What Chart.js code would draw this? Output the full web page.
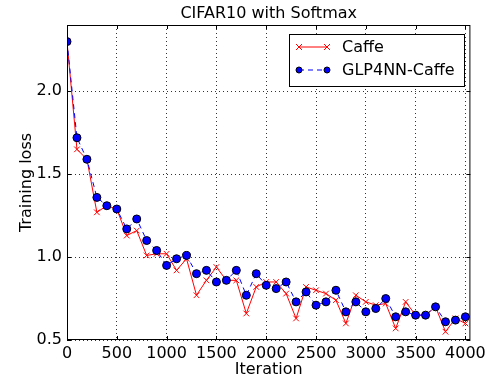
<!DOCTYPE html>
<html>
<head>
<meta charset="utf-8">
<script src="https://cdn.jsdelivr.net/npm/chart.js@4.4.1/dist/chart.umd.min.js"></script>
<style>
  html, body { margin: 0; padding: 0; background: #fff; }
  #wrap { width: 490px; height: 379px; }
</style>
</head>
<body>
<div id="wrap"><canvas id="c" width="490" height="379"></canvas></div>
<script>
let iterations = [0, 100, 200, 300, 400, 500, 600, 700, 800, 900, 1000,
    1100, 1200, 1300, 1400, 1500, 1600, 1700, 1800, 1900, 2000,
    2100, 2200, 2300, 2400, 2500, 2600, 2700, 2800, 2900, 3000,
    3100, 3200, 3300, 3400, 3500, 3600, 3700, 3800, 3900, 4000]

let caffeLoss = [2.30, 1.65, 1.59, 1.27, 1.31, 1.29, 1.13, 1.16, 1.01, 1.02, 1.02,
    0.92, 0.99, 0.77, 0.86, 0.94, 0.86, 0.86, 0.66, 0.82, 0.85,
    0.85, 0.78, 0.63, 0.82, 0.80, 0.78, 0.74, 0.60, 0.77, 0.73,
    0.71, 0.72, 0.57, 0.73, 0.65, 0.65, 0.70, 0.55, 0.63, 0.60]

let glpLoss = [2.30, 1.72, 1.59, 1.36, 1.31, 1.29, 1.17, 1.23, 1.10, 1.04, 0.95,
    0.99, 1.01, 0.90, 0.92, 0.85, 0.86, 0.92, 0.77, 0.90, 0.83,
    0.81, 0.85, 0.73, 0.79, 0.71, 0.73, 0.80, 0.67, 0.73, 0.67,
    0.69, 0.75, 0.64, 0.67, 0.65, 0.65, 0.70, 0.61, 0.62, 0.64]

let xTickValues = [0, 500, 1000, 1500, 2000, 2500, 3000, 3500, 4000]
let yTickValues = [0.5, 1.0, 1.5, 2.0]

let seriesNames = ["Caffe", "GLP4NN-Caffe"]
let chartTitle = "CIFAR10 with Softmax"
let xLabel = "Iteration"
let yLabel = "Training loss"

let font = "'DejaVu Sans', sans-serif"

let toPoints = function (ys) {
    return iterations.map((x, i) => ({x: x, y: ys[i]}))
}

// frame, inward ticks, title and legend in the old matplotlib look
let mplLook = {
    id: "mplLook",
    afterDraw(chart) {
        let ctx = chart.ctx
        let a = chart.chartArea
        let xs = chart.scales.x
        let ys = chart.scales.y
        ctx.save()
        ctx.strokeStyle = "#000"
        ctx.lineWidth = 1
        ctx.strokeRect(a.left + 0.5, a.top + 0.5, a.right - a.left - 1, a.bottom - a.top - 1)
        ctx.beginPath()
        xs.ticks.forEach(t => {
            let px = Math.round(xs.getPixelForValue(t.value)) + 0.5
            ctx.moveTo(px, a.bottom); ctx.lineTo(px, a.bottom - 4)
            ctx.moveTo(px, a.top); ctx.lineTo(px, a.top + 4)
        })
        ys.ticks.forEach(t => {
            let py = Math.round(ys.getPixelForValue(t.value)) + 0.5
            ctx.moveTo(a.left, py); ctx.lineTo(a.left + 4, py)
            ctx.moveTo(a.right, py); ctx.lineTo(a.right - 4, py)
        })
        ctx.stroke()

        ctx.fillStyle = "#000"
        ctx.font = "16px " + font
        ctx.textAlign = "center"
        ctx.textBaseline = "middle"
        ctx.fillText(chartTitle, (a.left + a.right) / 2, 14)

        // legend box
        let bx = 289.5, by = 34.5, bw = 175, bh = 52
        ctx.fillStyle = "#fff"
        ctx.fillRect(bx, by, bw, bh)
        ctx.strokeStyle = "#000"
        ctx.strokeRect(bx, by, bw, bh)
        let rows = [47, 70]
        chart.data.datasets.forEach((ds, i) => {
            let y = rows[i]
            ctx.save()
            ctx.strokeStyle = ds.borderColor
            ctx.lineWidth = 1
            ctx.setLineDash(ds.borderDash || [])
            ctx.beginPath()
            ctx.moveTo(299, y); ctx.lineTo(327, y)
            ctx.stroke()
            ctx.restore()
            ;[299, 327].forEach(px => {
                ctx.fillStyle = ds.pointBackgroundColor
                ctx.strokeStyle = ds.pointBorderColor
                ctx.lineWidth = ds.pointBorderWidth
                ctx.beginPath()
                let r = 3
                if (ds.pointStyle === "circle") {
                    ctx.arc(px, y, r, 0, Math.PI * 2)
                    ctx.fill(); ctx.stroke()
                } else {
                    ctx.moveTo(px - r, y - r); ctx.lineTo(px + r, y + r)
                    ctx.moveTo(px - r, y + r); ctx.lineTo(px + r, y - r)
                    ctx.stroke()
                }
            })
            ctx.fillStyle = "#000"
            ctx.font = "16px " + font
            ctx.textAlign = "left"
            ctx.textBaseline = "middle"
            ctx.fillText(ds.label, 342, y + 1)
        })
        ctx.restore()
    }
}

let gridStyle = {color: "rgba(0,0,0,0.8)", lineWidth: 1, drawTicks: false}
let borderStyle = {display: false, dash: [1, 3]}

let chart = new Chart(document.getElementById("c"), {
    type: "line",
    data: {
        datasets: [
            {
                label: seriesNames[0], data: toPoints(caffeLoss), order: 1,
                borderColor: "#ff0000", borderWidth: 1, tension: 0,
                pointStyle: "crossRot", pointRadius: 4, pointBorderWidth: 1,
                pointBorderColor: "#ff0000", pointBackgroundColor: "#ff0000",
                clip: 0
            },
            {
                label: seriesNames[1], data: toPoints(glpLoss), order: 0,
                borderColor: "#0000ff", borderWidth: 1, borderDash: [5, 4], tension: 0,
                pointStyle: "circle", pointRadius: 4, pointBorderWidth: 1,
                pointBorderColor: "#000", pointBackgroundColor: "#0000ff",
                clip: 0
            }
        ]
    },
    options: {
        responsive: false,
        animation: false,
        events: [],
        layout: {padding: {left: 0, right: 18, top: 25, bottom: 0}},
        plugins: {legend: {display: false}, title: {display: false}, tooltip: {enabled: false}},
        scales: {
            x: {
                type: "linear", min: 0, max: 4050,
                border: borderStyle,
                grid: gridStyle,
                ticks: {padding: 4, maxRotation: 0, autoSkip: false,
                    color: "#000", font: {family: font, size: 16},
                    callback: v => String(v)},
                afterBuildTicks(scale) { scale.ticks = xTickValues.map(v => ({value: v})) },
                title: {display: true, text: xLabel, color: "#000", padding: {top: 0, bottom: 0},
                    font: {family: font, size: 16}},
                afterFit(scale) { scale.height = 39 }
            },
            y: {
                min: 0.5, max: 2.4,
                border: borderStyle,
                grid: gridStyle,
                ticks: {padding: 5, autoSkip: false,
                    color: "#000", font: {family: font, size: 16},
                    callback: v => v.toFixed(1)},
                afterBuildTicks(scale) { scale.ticks = yTickValues.map(v => ({value: v})) },
                title: {display: true, text: yLabel, color: "#000", padding: {top: 17, bottom: 0},
                    font: {family: font, size: 16}},
                afterFit(scale) { scale.width = 67 }
            }
        }
    },
    plugins: [mplLook]
})
</script>
</body>
</html>
